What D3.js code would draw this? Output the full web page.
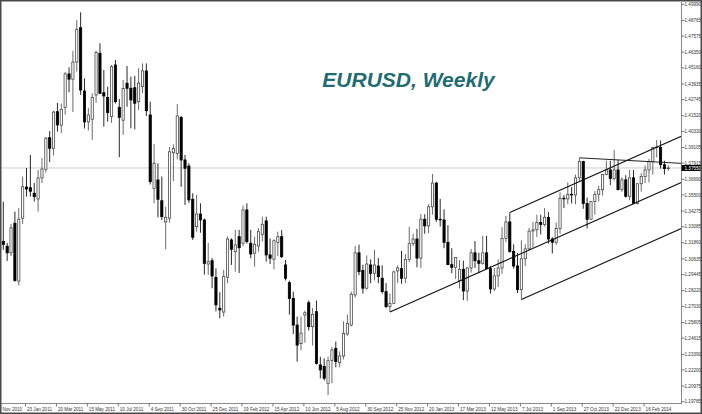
<!DOCTYPE html>
<html><head><meta charset="utf-8">
<script src="https://cdn.jsdelivr.net/npm/d3@7/dist/d3.min.js"></script>
<style>body{margin:0;background:#fff;}svg{display:block;}</style>
</head><body>
<svg id="chart" width="702" height="414"></svg>
<script>
// ---- data (weekly EURUSD, bar 0 = week of 12 Dec 2010) ----
const opens = [1.3196,1.3160,1.3110,1.3335,1.2895,1.3373,1.3610,1.3605,1.3563,1.3519,1.3679,1.3745,1.3985,1.3905,1.4183,1.4080,1.4215,1.4470,1.4430,1.4560,
1.4821,1.4340,1.4105,1.4125,1.4310,1.4627,1.4327,1.4290,1.4145,1.4538,1.4216,1.4118,1.4399,1.4361,1.4365,1.4259,1.4373,1.4492,1.4158,1.3600,
1.3664,1.3506,1.3345,1.3373,1.3871,1.3866,1.4139,1.3816,1.3770,1.3517,1.3309,1.3405,1.3360,1.3025,1.3050,1.2924,1.2689,1.2660,1.2925,1.3208,
1.3119,1.3233,1.3183,1.3436,1.3183,1.3107,1.3162,1.3250,1.3353,1.3094,1.3061,1.3188,1.3233,1.3018,1.2883,1.2764,1.2561,1.2420,1.2637,1.2731,
1.2549,1.2663,1.2258,1.2246,1.2118,1.2291,1.2384,1.2275,1.2326,1.2493,1.2561,1.2790,1.3110,1.2975,1.2841,1.3018,1.2954,1.3010,1.2917,1.2815,
1.2701,1.2726,1.2973,1.2990,1.2917,1.3060,1.3180,1.3215,1.3070,1.3365,1.3315,1.3460,1.3640,1.3365,1.3360,1.3190,1.3020,1.3000,1.2900,1.2985,
1.2820,1.2995,1.3110,1.3050,1.3030,1.3110,1.2990,1.2835,1.2935,1.2995,1.3220,1.3345,1.3120,1.3010,1.2830,1.3065,1.3140,1.3275,1.3285,1.3340,
1.3325,1.3380,1.3215,1.3190,1.3295,1.3525,1.3520,1.3555,1.3550,1.3680,1.3805,1.3485,1.3365,1.3500,1.3555,1.3590,1.3705,1.3740,1.3675,1.3740,
1.3590,1.3665,1.3540,1.3680,1.3485,1.3635,1.3690,1.3740,1.3805,1.3910,1.3910,1.3780,1.3750];
const highs = [1.3499,1.3185,1.3330,1.3423,1.3449,1.3690,1.3755,1.3854,1.3641,1.3740,1.3831,1.3990,1.4035,1.4190,1.4249,1.4245,1.4485,1.4520,1.4645,1.4880,
1.4938,1.4437,1.4210,1.4323,1.4646,1.4703,1.4500,1.4373,1.4538,1.4576,1.4280,1.4424,1.4530,1.4449,1.4454,1.4513,1.4550,1.4550,1.4259,1.3937,
1.3791,1.3690,1.3461,1.3915,1.3935,1.4240,1.4150,1.3854,1.3791,1.3563,1.3550,1.3486,1.3370,1.3185,1.3070,1.2992,1.2810,1.2980,1.3235,1.3220,
1.3284,1.3284,1.3470,1.3486,1.3284,1.3233,1.3297,1.3385,1.3385,1.3220,1.3212,1.3271,1.3283,1.3056,1.2898,1.2815,1.2625,1.2625,1.2670,1.2748,
1.2690,1.2748,1.2320,1.2308,1.2321,1.2397,1.2435,1.2360,1.2590,1.2640,1.2815,1.3162,1.3172,1.3020,1.3090,1.3060,1.3132,1.3070,1.3015,1.2880,
1.2800,1.2975,1.3015,1.3125,1.3100,1.3308,1.3255,1.3293,1.3405,1.3403,1.3480,1.3710,1.3650,1.3520,1.3440,1.3320,1.3145,1.3075,1.3055,1.3050,
1.3000,1.3140,1.3200,1.3110,1.3240,1.3240,1.3010,1.2995,1.3060,1.3305,1.3390,1.3416,1.3175,1.3110,1.3206,1.3175,1.3300,1.3345,1.3400,1.3400,
1.3450,1.3420,1.3230,1.3340,1.3570,1.3550,1.3645,1.3610,1.3705,1.3832,1.3810,1.3530,1.3500,1.3580,1.3620,1.3710,1.3810,1.3810,1.3893,1.3815,
1.3685,1.3700,1.3740,1.3740,1.3640,1.3715,1.3775,1.3825,1.3915,1.3967,1.3965,1.3810,1.3775];
const lows = [1.3133,1.3048,1.3086,1.2891,1.2862,1.3330,1.3537,1.3537,1.3500,1.3423,1.3640,1.3720,1.3800,1.3850,1.4031,1.4020,1.4160,1.4330,1.4180,1.4487,
1.4310,1.4055,1.4040,1.3968,1.4251,1.4315,1.4069,1.4107,1.4097,1.4245,1.3837,1.4006,1.4221,1.4056,1.4049,1.4196,1.4325,1.4150,1.3630,1.3486,
1.3380,1.3360,1.3137,1.3340,1.3655,1.3820,1.3612,1.3474,1.3490,1.3208,1.3271,1.3263,1.2945,1.2942,1.2841,1.2665,1.2612,1.2625,1.2880,1.3018,
1.2967,1.2957,1.3160,1.3180,1.3069,1.3005,1.3119,1.3195,1.3043,1.3025,1.2985,1.3086,1.3070,1.2900,1.2640,1.2493,1.2283,1.2370,1.2427,1.2520,
1.2405,1.2260,1.2156,1.2140,1.2029,1.2118,1.2240,1.2240,1.2300,1.2480,1.2550,1.2770,1.2940,1.2800,1.2830,1.2880,1.2900,1.2880,1.2800,1.2690,
1.2661,1.2720,1.2880,1.2875,1.2880,1.3040,1.3160,1.3000,1.2995,1.3255,1.3260,1.3400,1.3345,1.3310,1.3145,1.3020,1.2955,1.2910,1.2840,1.2750,
1.2745,1.2960,1.2995,1.2955,1.3020,1.2990,1.2800,1.2820,1.2850,1.2950,1.3190,1.3110,1.2990,1.2805,1.2755,1.3010,1.3130,1.3150,1.3230,1.3250,
1.3310,1.3180,1.3105,1.3170,1.3255,1.3450,1.3480,1.3485,1.3480,1.3650,1.3445,1.3295,1.3360,1.3400,1.3500,1.3545,1.3700,1.3625,1.3660,1.3585,
1.3573,1.3530,1.3510,1.3480,1.3475,1.3575,1.3640,1.3645,1.3705,1.3835,1.3750,1.3705,1.3735];
const closes = [1.3174,1.3110,1.3300,1.2900,1.3365,1.3613,1.3595,1.3578,1.3537,1.3679,1.3747,1.3982,1.3905,1.4180,1.4082,1.4200,1.4470,1.4430,1.4560,1.4809,
1.4348,1.4105,1.4158,1.4290,1.4634,1.4323,1.4302,1.4176,1.4525,1.4259,1.4140,1.4359,1.4361,1.4272,1.4247,1.4400,1.4494,1.4190,1.3651,1.3791,
1.3517,1.3385,1.3380,1.3878,1.3903,1.4150,1.3816,1.3753,1.3512,1.3228,1.3405,1.3360,1.3030,1.3043,1.2934,1.2714,1.2676,1.2929,1.3215,1.3137,
1.3170,1.3149,1.3436,1.3195,1.3101,1.3175,1.3271,1.3327,1.3094,1.3069,1.3202,1.3233,1.3081,1.2917,1.2764,1.2561,1.2409,1.2500,1.2655,1.2549,
1.2643,1.2270,1.2220,1.2157,1.2290,1.2372,1.2283,1.2326,1.2498,1.2574,1.2795,1.3110,1.2967,1.2841,1.3025,1.2954,1.3018,1.2929,1.2815,1.2701,
1.2726,1.2965,1.2995,1.2917,1.3060,1.3180,1.3215,1.3070,1.3365,1.3315,1.3460,1.3640,1.3365,1.3360,1.3190,1.3020,1.3000,1.3075,1.2985,1.2820,
1.2995,1.3110,1.3050,1.3030,1.3110,1.2990,1.2835,1.2935,1.2995,1.3220,1.3345,1.3120,1.3010,1.2830,1.3065,1.3140,1.3275,1.3285,1.3340,1.3325,
1.3380,1.3215,1.3190,1.3295,1.3525,1.3520,1.3555,1.3550,1.3680,1.3805,1.3485,1.3365,1.3500,1.3555,1.3590,1.3705,1.3740,1.3675,1.3740,1.3590,
1.3665,1.3540,1.3680,1.3485,1.3635,1.3690,1.3740,1.3805,1.3910,1.3915,1.3780,1.3750,1.3755];

const yTickValues = [1.49990,1.48765,1.47575,1.46350,1.45160,1.43935,1.42745,1.41520,1.40330,1.39105,1.37915,1.36690,1.35500,1.34275,
  1.33085,1.31860,1.30635,1.29445,1.28220,1.27030,1.25805,1.24615,1.23390,1.22200,1.20975,1.19785];
const xTickBars = [-2,6,14,22,30,38,46,54,62,70,78,86,94,102,110,118,126,134,142,150,158,166];
const xTickLabels = ["Nov 2010","23 Jan 2011","20 Mar 2011","15 May 2011","10 Jul 2011","4 Sep 2011","30 Oct 2011","25 Dec 2011",
  "19 Feb 2012","15 Apr 2012","10 Jun 2012","5 Aug 2012","30 Sep 2012","25 Nov 2012","20 Jan 2013","17 Mar 2013","12 May 2013",
  "7 Jul 2013","1 Sep 2013","27 Oct 2013","22 Dec 2013","16 Feb 2014"];
const bidPrice = 1.37550;
// Andrews pitchfork anchors [bar, price] and a trend line
const forkPoints = [[100,1.2661],[131,1.3416],[134,1.2755]];
const trendLine = [[149,1.3832],[175.5,1.3790]];
const titleText = "EURUSD, Weekly";

// ---- layout ----
const W = 702, H = 414;
const plotL = 1, plotR = 681, plotT = 2, plotB = 403.5;
const svg = d3.select("#chart");
const n = closes.length;
const x = d3.scaleLinear().domain([0, n - 1]).range([3.3, 668.3]);
const y = d3.scaleLinear().domain([1.19785, 1.49990]).range([401.7, 4.3]);
const font = "'Liberation Sans', Arial, sans-serif";

svg.append("rect").attr("width", W).attr("height", H).attr("fill", "#fff");
svg.append("defs").append("clipPath").attr("id", "clip")
  .append("rect").attr("x", plotL).attr("y", plotT).attr("width", plotR - plotL).attr("height", plotB - plotT);

const plot = svg.append("g").attr("clip-path", "url(#clip)");

// bid line
plot.append("line").attr("x1", plotL).attr("x2", plotR)
  .attr("y1", y(bidPrice)).attr("y2", y(bidPrice))
  .attr("stroke", "#cfcfcf").attr("stroke-width", 1);

// candles
const idx = d3.range(n);
const bw = 2.2;
const g = plot.append("g");
g.selectAll("line.wick").data(idx).join("line")
  .attr("x1", i => x(i)).attr("x2", i => x(i))
  .attr("y1", i => y(highs[i])).attr("y2", i => y(lows[i]))
  .attr("stroke", i => closes[i] >= opens[i] ? "#5a5a5a" : "#111")
  .attr("stroke-width", 0.9);
g.selectAll("rect.body").data(idx).join("rect")
  .attr("x", i => x(i) - bw / 2)
  .attr("width", bw)
  .attr("y", i => y(Math.max(opens[i], closes[i])))
  .attr("height", i => Math.max(0.4, Math.abs(y(opens[i]) - y(closes[i]))))
  .attr("fill", i => closes[i] >= opens[i] ? "#fff" : "#000")
  .attr("stroke", i => closes[i] >= opens[i] ? "#4a4a4a" : "#000")
  .attr("stroke-width", 0.8);

// pitchfork
const [p1, p2, p3] = forkPoints;
const mid = [(p2[0] + p3[0]) / 2, (p2[1] + p3[1]) / 2];
const slope = (mid[1] - p1[1]) / (mid[0] - p1[0]);
const endBar = x.invert(plotR + 2);
const ray = p => [p, [endBar, p[1] + slope * (endBar - p[0])]];
const line = d3.line().x(d => x(d[0])).y(d => y(d[1]));
[ray(p1), ray(p2), ray(p3)].forEach(seg => {
  plot.append("path").attr("d", line(seg)).attr("fill", "none")
    .attr("stroke", "#111").attr("stroke-width", 1.1);
});
plot.append("path").attr("d", line(trendLine)).attr("fill", "none")
  .attr("stroke", "#222").attr("stroke-width", 1);

// title
svg.append("text").attr("x", 408.5).attr("y", 87).attr("text-anchor", "middle")
  .attr("font-family", font).attr("font-size", 21).attr("font-weight", "bold")
  .attr("font-style", "italic").attr("fill", "#1f6d71").text(titleText);

// right axis
svg.append("line").attr("x1", plotR + 0.5).attr("x2", plotR + 0.5).attr("y1", plotT).attr("y2", plotB + 0.5)
  .attr("stroke", "#8a8a8a").attr("stroke-width", 1);
const yt = svg.append("g");
yTickValues.forEach(v => {
  yt.append("line").attr("x1", plotR + 0.5).attr("x2", plotR + 3.5).attr("y1", y(v)).attr("y2", y(v))
    .attr("stroke", "#555").attr("stroke-width", 0.8);
  yt.append("text").attr("x", 684.5).attr("y", y(v)).attr("dy", "0.35em")
    .attr("font-family", font).attr("font-size", 4.6).attr("fill", "#333").text(v.toFixed(5));
});
// bid price box
svg.append("rect").attr("x", plotR + 0.5).attr("y", y(bidPrice) - 3).attr("width", W - plotR).attr("height", 6)
  .attr("fill", "#000");
svg.append("text").attr("x", 684.5).attr("y", y(bidPrice)).attr("dy", "0.35em")
  .attr("font-family", font).attr("font-size", 4.6).attr("fill", "#fff").text(bidPrice.toFixed(5));

// bottom axis
svg.append("line").attr("x1", plotL).attr("x2", plotR + 0.5).attr("y1", plotB).attr("y2", plotB)
  .attr("stroke", "#8a8a8a").attr("stroke-width", 1);
const xt = svg.append("g");
xTickBars.forEach((b, k) => {
  const tx = Math.max(2.5, x(b) + 0.5);
  if (x(b) - 1 > plotL) {
    xt.append("line").attr("x1", x(b) - 1).attr("x2", x(b) - 1).attr("y1", plotB).attr("y2", plotB + 3)
      .attr("stroke", "#555").attr("stroke-width", 0.8);
  }
  xt.append("text").attr("x", tx).attr("y", 410.5)
    .attr("font-family", font).attr("font-size", 4.6).attr("fill", "#333").text(xTickLabels[k]);
});

// outer frame
svg.append("rect").attr("x", 0.75).attr("y", 0.75).attr("width", W - 1.5).attr("height", H - 1.5)
  .attr("fill", "none").attr("stroke", "#4a4a4a").attr("stroke-width", 1.5);
</script>
</body></html>
